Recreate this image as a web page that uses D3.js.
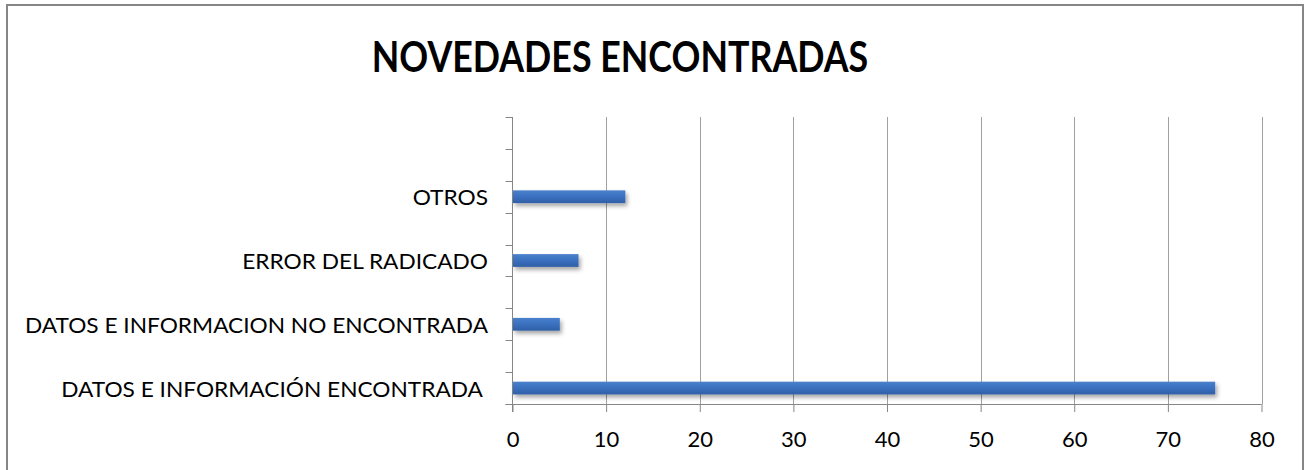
<!DOCTYPE html>
<html>
<head>
<meta charset="utf-8">
<script src="https://cdn.jsdelivr.net/npm/d3@7"></script>
<style>
  html, body { margin: 0; padding: 0; background: #fff; }
  svg { display: block; }
  text { font-family: Lato, "Open Sans", sans-serif; fill: #000; }
</style>
</head>
<body>
<svg id="chart" width="1305" height="470"></svg>
<script>
// Data (bottom to top as in the reference)
const categories = [
  "DATOS E INFORMACIÓN ENCONTRADA ",
  "",
  "DATOS E INFORMACION NO ENCONTRADA",
  "",
  "ERROR DEL RADICADO",
  "",
  "OTROS",
  "",
  ""
];
const values = [75, null, 5, null, 7, null, 12, null, null];
const xTicks = [0, 10, 20, 30, 40, 50, 60, 70, 80];
const title = "NOVEDADES ENCONTRADAS";

const svg = d3.select("#chart");
const plot = { left: 512.5, right: 1261.5, top: 117, bottom: 404 };

// chart frame
svg.append("rect")
  .attr("x", 7).attr("y", 5).attr("width", 1296).attr("height", 480)
  .attr("fill", "#fff").attr("stroke", "#868686").attr("stroke-width", 2);

// defs
const defs = svg.append("defs");
const grad = defs.append("linearGradient").attr("id", "barGrad")
  .attr("x1", 0).attr("y1", 0).attr("x2", 0).attr("y2", 1);
grad.append("stop").attr("offset", "0%").attr("stop-color", "#4a80cc");
grad.append("stop").attr("offset", "50%").attr("stop-color", "#3a70bf");
grad.append("stop").attr("offset", "100%").attr("stop-color", "#2f5fa6");
const filt = defs.append("filter").attr("id", "shadow")
  .attr("x", "-10%").attr("y", "-50%").attr("width", "130%").attr("height", "250%");
filt.append("feDropShadow").attr("dx", 2).attr("dy", 3).attr("stdDeviation", 2)
  .attr("flood-color", "#000").attr("flood-opacity", 0.35);

const idx = categories.map((d, i) => i);
const x = d3.scaleLinear().domain([0, 80]).range([plot.left, plot.right]);
const y = d3.scaleBand().domain(idx).range([plot.bottom, plot.top])
  .paddingInner(0.6).paddingOuter(0.3);
const slot = d3.scaleBand().domain(idx).range([plot.bottom, plot.top]).padding(0);

// vertical gridlines
svg.append("g").selectAll("line").data(xTicks.filter(t => t > 0)).join("line")
  .attr("x1", d => Math.round(x(d)) + 0.5).attr("x2", d => Math.round(x(d)) + 0.5)
  .attr("y1", plot.top).attr("y2", plot.bottom)
  .attr("stroke", "#a0a0a0").attr("stroke-width", 1);

// x axis
const xAxis = d3.axisBottom(x).tickValues(xTicks).tickSize(8).tickPadding(19);
const gx = svg.append("g").attr("transform", `translate(0,${plot.bottom})`).call(xAxis);
gx.select(".domain").attr("stroke", "#868686").attr("d", `M${plot.left - 7},0.5H${plot.right}`);
gx.selectAll(".tick line").attr("stroke", "#868686");
gx.selectAll(".tick text").attr("font-size", 22).attr("fill", "#000")
  .style("font-family", "Lato, 'Open Sans', sans-serif");

// y axis with ticks at slot boundaries
const yTickPos = d3.range(categories.length + 1).map(i => plot.bottom - i * slot.step());
svg.append("g").selectAll("line").data(yTickPos).join("line")
  .attr("x1", plot.left - 7).attr("x2", plot.left)
  .attr("y1", d => Math.round(d) + 0.5).attr("y2", d => Math.round(d) + 0.5)
  .attr("stroke", "#868686");
svg.append("line")
  .attr("x1", plot.left).attr("x2", plot.left)
  .attr("y1", plot.top).attr("y2", plot.bottom + 8)
  .attr("stroke", "#868686");

// bars
svg.append("g").selectAll("rect").data(idx.filter(i => values[i] != null)).join("rect")
  .attr("x", x(0) + 0.5)
  .attr("y", i => y(i))
  .attr("width", i => x(values[i]) - x(0))
  .attr("height", y.bandwidth())
  .attr("fill", "url(#barGrad)")
  .attr("filter", "url(#shadow)");

// category labels (widened slightly to match the reference's font metrics)
const labels = svg.append("g").selectAll("text").data(idx.filter(i => categories[i] !== "")).join("text")
  .attr("x", 488)
  .attr("y", i => slot(i) + slot.bandwidth() / 2 + 1)
  .attr("dy", "0.35em")
  .attr("text-anchor", "end")
  .attr("font-size", 21.5)
  .style("white-space", "pre")
  .text(i => categories[i]);
labels.each(function () {
  const w = this.getComputedTextLength();
  d3.select(this).attr("textLength", w * 1.055).attr("lengthAdjust", "spacingAndGlyphs");
});

// title
const t = svg.append("text")
  .attr("x", 620).attr("y", 72)
  .attr("text-anchor", "middle")
  .attr("font-size", 42)
  .attr("font-weight", "bold")
  .text(title);
t.attr("textLength", t.node().getComputedTextLength() * 0.852).attr("lengthAdjust", "spacingAndGlyphs");
</script>
</body>
</html>
